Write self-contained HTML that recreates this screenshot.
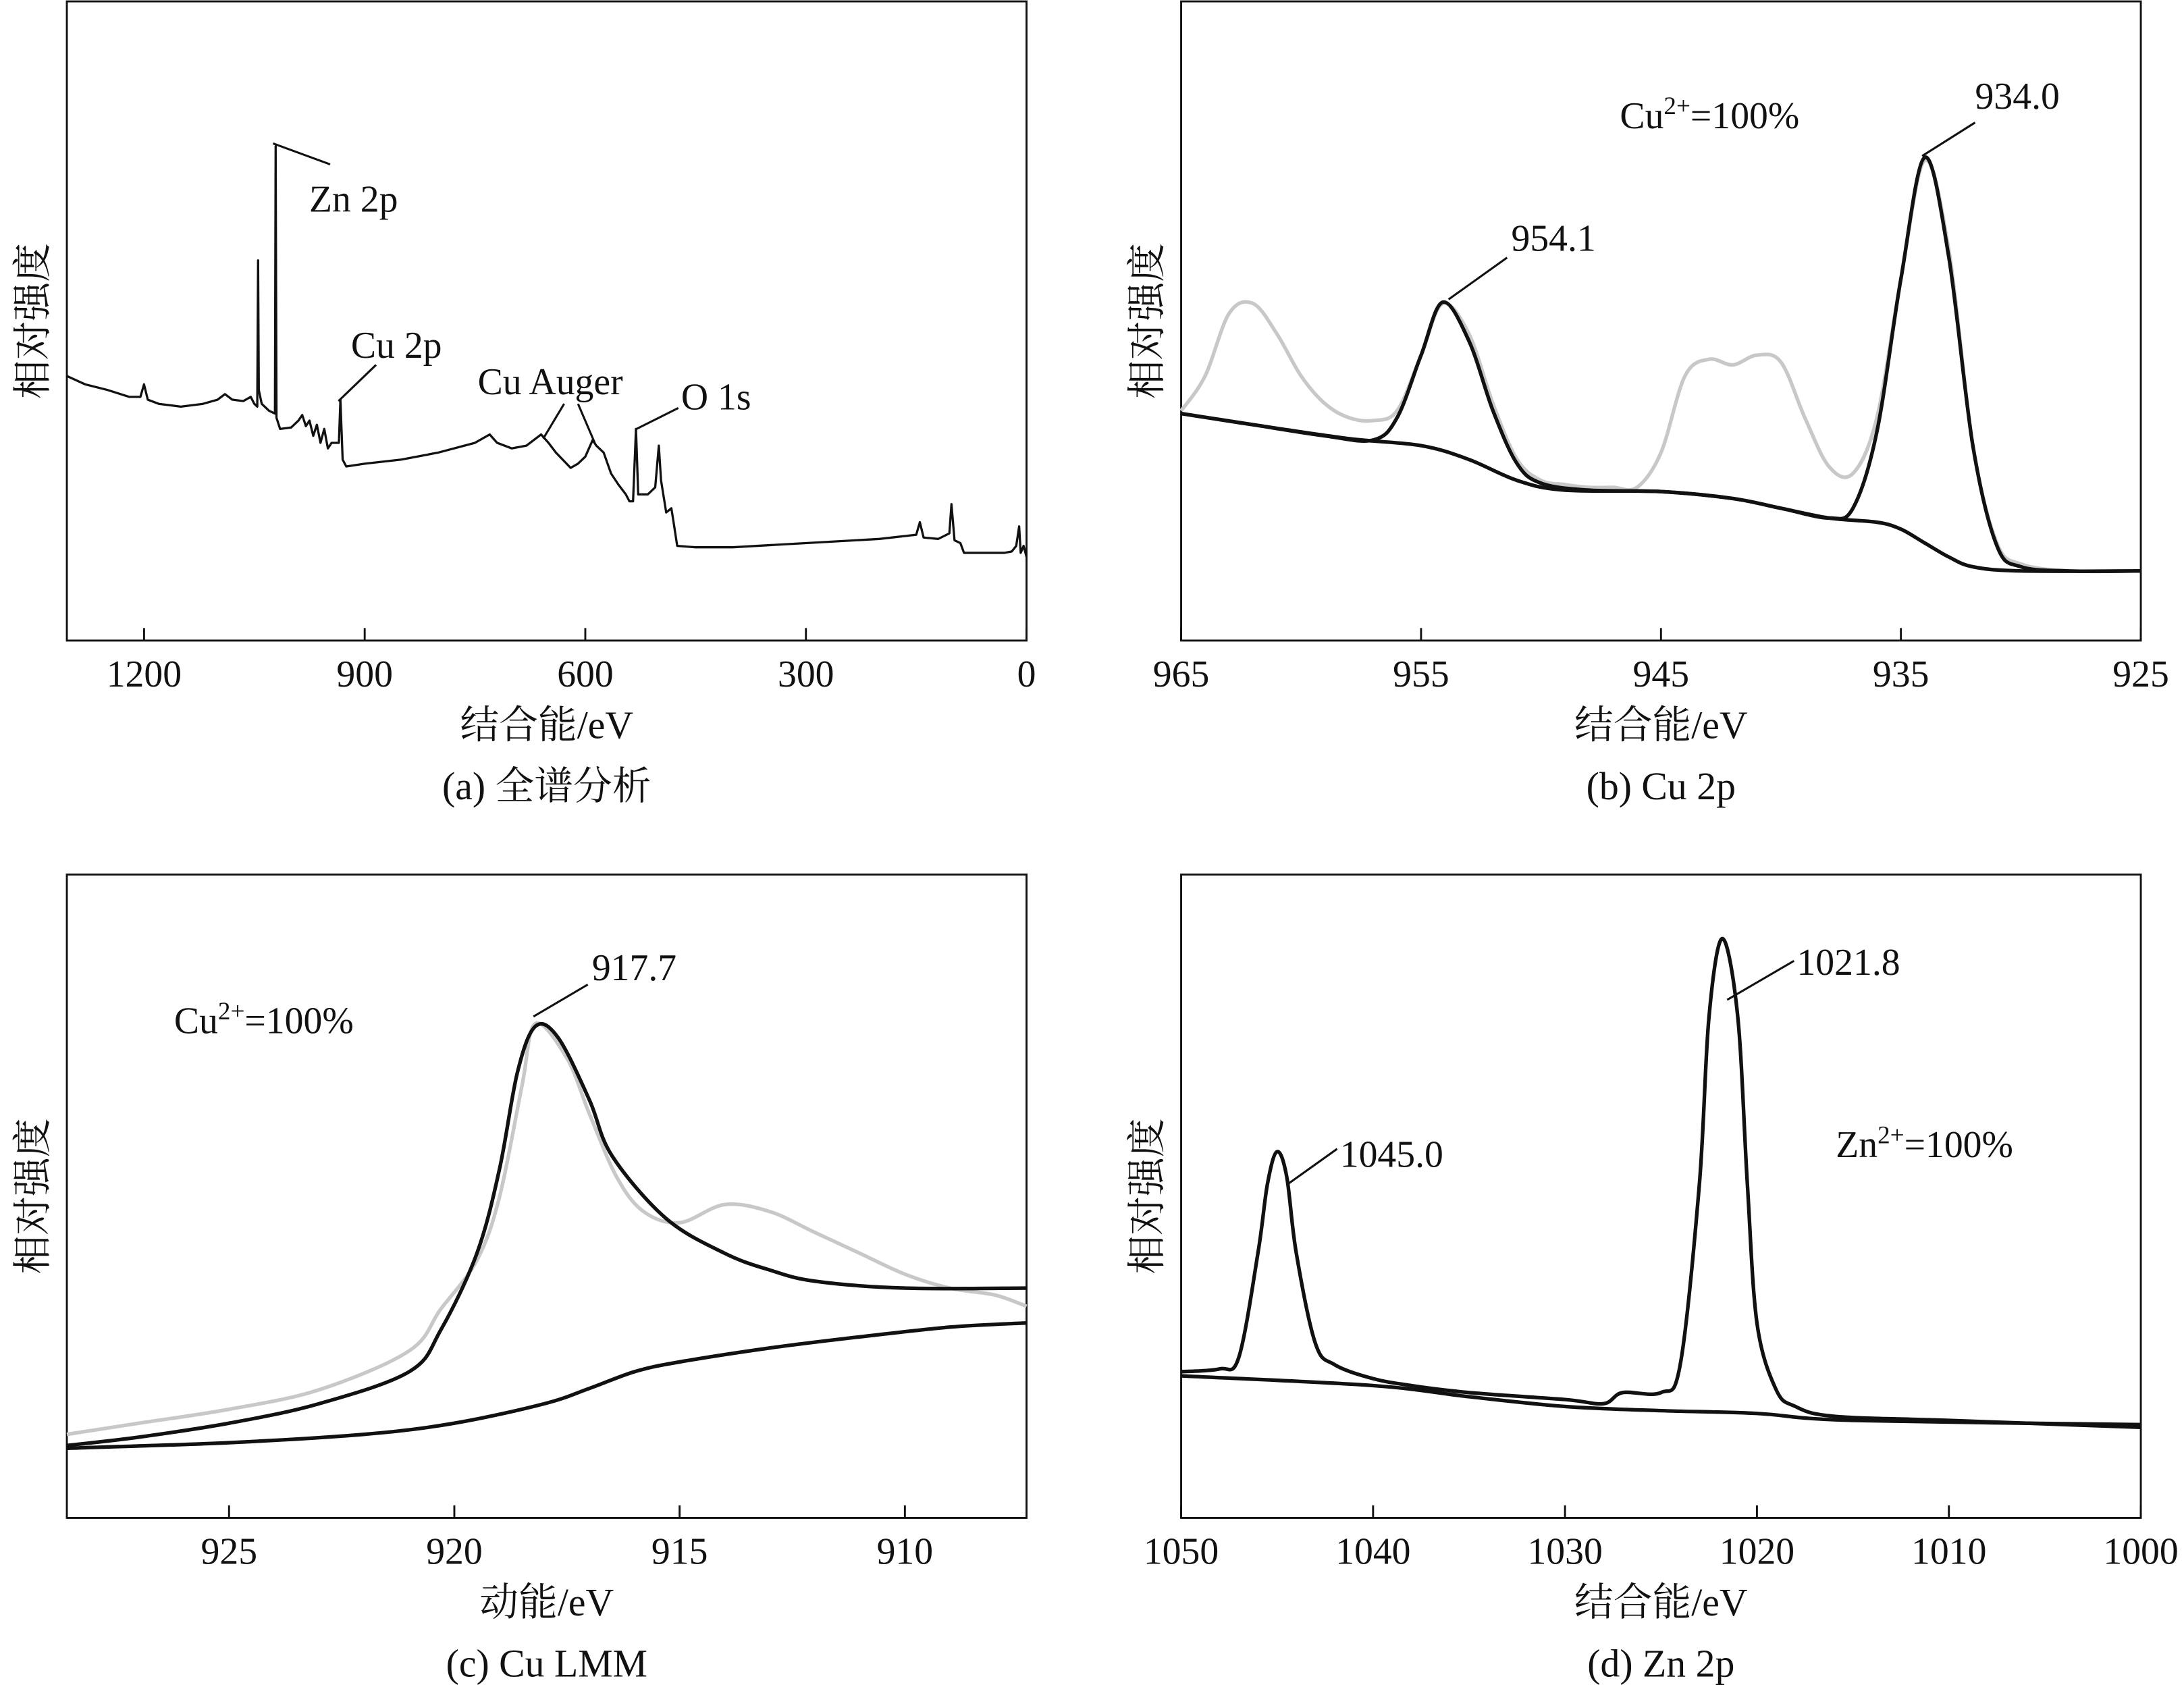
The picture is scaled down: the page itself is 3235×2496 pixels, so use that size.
<!DOCTYPE html>
<html><head><meta charset="utf-8"><style>
html,body{margin:0;padding:0;background:#fff;}
svg{display:block;}
text{font-family:"Liberation Serif","Noto Serif CJK SC",serif;fill:#111;}
</style></head><body>
<svg id="fig" width="3235" height="2496" viewBox="0 0 1568 1210" preserveAspectRatio="none" xmlns="http://www.w3.org/2000/svg"></svg>
<script>
// ---------- Panel (a) survey ----------
const aE=[1305,1280,1250,1220,1205,1200,1195,1180,1150,1120,1100,1090,1080,1065,1055,1050,1046,1045,1044,1040,1030,1022,1021,1020,1015,1000,990,985,980,975,970,965,960,955,950,945,935,933,930,925,900,850,800,750,730,720,700,680,660,650,640,620,610,600,590,585,575,565,555,545,540,535,531,528,515,505,500,497,490,483,480,475,450,400,300,200,150,145,140,120,105,102,98,90,85,60,30,20,14,10,8,4,0];
const aI=[190,184,180,175,175,184,173,170,168,170,173,177,173,172,175,170,168,273,180,170,165,163,355,160,152,153,158,162,154,158,147,155,142,152,138,142,142,173,130,125,127,130,135,142,148,142,138,140,148,142,135,124,127,132,144,140,135,120,112,105,100,100,152,105,105,110,140,115,92,95,85,68,67,67,70,73,76,85,74,73,77,98,72,70,63,63,63,64,68,82,63,68,60];
const aTicks=[1200,900,600,300,0];
// ---------- Panel (b) Cu 2p ----------
const bRawE=[965,964,963,962,961,960,959,958,957,956,955,954.1,953,952,951,950,949,948,947,946,945,944,943,942,941,940,939,938,937,936,935,934,933,932,931,930,928,925];
const bRawI=[165,190,235,242,220,190,170,160,158,165,205,242,220,170,130,115,112,110,110,110,135,190,202,198,205,200,160,125,120,160,260,345,280,140,70,55,50,50];
const bFitE=[965,962,959,957,956,955,954.1,953,952,951,950,948,945,942,940,938,937,936,935,934,933,932,931,930,928,925];
const bFitI=[163,155,147,144,160,205,243,215,165,127,113,108,107,102,95,88,95,150,260,347,275,140,68,53,50,50];
const bBgE=[965,962,958,955,953,951,949,945,942,940,938,936,935,934,933,932,930,925];
const bBgI=[163,155,145,140,130,115,108,107,102,95,88,85,80,70,60,53,50,50];
const bTicks=[965,955,945,935,925];
// ---------- Panel (c) Cu LMM ----------
const cRawE=[928.6,927,925,923,921,920.3,919.5,919,918.5,918.2,917.5,917,916.4,915.8,915,914,913,912,911,910,909,908,907.3];
const cRawI=[60,68,78,92,120,150,185,230,310,355,330,290,245,220,212,225,220,205,190,175,165,160,152];
const cFitE=[928.6,927,925,923,921,920.3,919.5,919,918.6,918.2,917.7,917,916.5,915.3,914,913,912,910,907.3];
const cFitI=[52,58,68,82,105,135,190,250,320,353,345,300,260,215,190,178,170,165,165];
const cBgE=[928.6,925,922,920,918,917,916,915,913,911,909,907.3];
const cBgI=[50,54,60,68,82,93,105,112,122,130,137,140];
const cTicks=[925,920,915,910];
// ---------- Panel (d) Zn 2p ----------
const dRawE=[1050,1048,1047,1046,1045.5,1045,1044.5,1044,1043,1042,1040,1038,1035,1030,1028,1027,1025,1024,1023,1022.5,1021.8,1021,1020.5,1020,1019,1018,1016,1010,1000];
const dRawI=[105,107,115,190,240,263,245,190,125,110,100,95,90,85,82,90,90,110,240,360,416,360,240,140,92,80,73,70,65];
const dBgE=[1050,1040,1035,1030,1025,1020,1015,1000];
const dBgI=[102,95,87,80,77,75,70,67];
const dTicks=[1050,1040,1030,1020,1010,1000];

const NS='http://www.w3.org/2000/svg';
const svg=document.getElementById('fig');
function mk(tag,attrs,parent){const e=document.createElementNS(NS,tag);for(const k in attrs)e.setAttribute(k,attrs[k]);(parent||svg).appendChild(e);return e;}
function txt(x,y,s,size,anchor,parent){const t=mk('text',{x:x,y:y,'font-size':size,'text-anchor':anchor||'start'},parent);t.textContent=s;return t;}

function panel(id,L,R,T,B,e0,e1,ticks,xlabel,caption){
  const g=mk('g',{});
  
  
  const sx=e=>L+(e0-e)/(e0-e1)*(R-L);
  const sy=v=>B-v;
  const fr=mk('rect',{x:L,y:T,width:R-L,height:B-T,fill:'none',stroke:'#111','stroke-width':1.4},g);
  
  
  ticks.forEach(t=>{
    const x=sx(t);
    const tl=mk('line',{x1:x,y1:B,x2:x,y2:B-9,stroke:'#111','stroke-width':1.4},g);
    
    
    const lb=txt(x,B+33,String(t),27,'middle',g);
    
    
  });
  const xt=txt((L+R)/2,B+70,xlabel,28,'middle',g);
  
  
  const cp=txt((L+R)/2,B+114,caption,28,'middle',g);
  
  
  const cy=(T+B)/2;
  const yt=txt(0,0,'相对强度',28,'middle',g);
  yt.setAttribute('transform','translate('+(L-15)+','+cy+') rotate(-90)');
  
  
  return {g,sx,sy};
}
function curve(p,E,I,color,w,name,smooth){
  const P=E.map((e,i)=>[p.sx(e),p.sy(I[i])]);
  let d='M'+P[0][0].toFixed(1)+','+P[0][1].toFixed(1);
  if(!smooth){
    for(let i=1;i<P.length;i++)d+=' L'+P[i][0].toFixed(1)+','+P[i][1].toFixed(1);
  }else{
    const t=1/6;
    for(let i=0;i<P.length-1;i++){
      const p0=P[Math.max(0,i-1)],p1=P[i],p2=P[i+1],p3=P[Math.min(P.length-1,i+2)];
      const c1=[p1[0]+(p2[0]-p0[0])*t,p1[1]+(p2[1]-p0[1])*t];
      const c2=[p2[0]-(p3[0]-p1[0])*t,p2[1]-(p3[1]-p1[1])*t];
      d+=' C'+c1[0].toFixed(1)+','+c1[1].toFixed(1)+' '+c2[0].toFixed(1)+','+c2[1].toFixed(1)+' '+p2[0].toFixed(1)+','+p2[1].toFixed(1);
    }
  }
  const path=mk('path',{d:d,fill:'none',stroke:color,'stroke-width':w,'stroke-linejoin':'round'},p.g);
  
  
}
function lead(p,x1,y1,x2,y2){
  const l=mk('line',{x1,y1,x2,y2,stroke:'#111','stroke-width':1.5},p.g);
  
  
}
function label(p,x,y,s,name){
  const t=txt(x,y,s,27,'start',p.g);
  
  
  return t;
}
function supLabel(p,x,y,base,sup,rest,name){
  const t=mk('text',{x:x,y:y,'font-size':27},p.g);
  
  
  t.appendChild(document.createTextNode(base));
  const s=mk('tspan',{'font-size':18,dy:-10},t);s.textContent=sup;
  const r=mk('tspan',{dy:10},t);r.textContent=rest;
}

// (a)
const pa=panel('a',48,737,1,460,1305,0,aTicks,'结合能/eV','(a) 全谱分析');
curve(pa,aE,aI,'#111',1.6,'survey-spectrum',false);
lead(pa,196,103,237,118);label(pa,222,152,'Zn 2p','label-zn2p');
lead(pa,243,288,270,262);label(pa,252,257,'Cu 2p','label-cu2p');
lead(pa,390,315,405,290);lead(pa,427,318,415,290);label(pa,343,283,'Cu Auger','label-cu-auger');
lead(pa,457,308,487,293);label(pa,489,294,'O 1s','label-o1s');

// (b)
const pb=panel('b',848,1537,1,460,965,925,bTicks,'结合能/eV','(b) Cu 2p');
curve(pb,bRawE,bRawI,'#c8c8c8',2.6,'cu2p-raw',true);
curve(pb,bBgE,bBgI,'#111',2.6,'cu2p-background',true);
curve(pb,bFitE,bFitI,'#111',2.6,'cu2p-fit',true);
supLabel(pb,1163,92,'Cu','2+','=100%','label-cu2plus');
lead(pb,1380,112,1418,88);label(pb,1418,78,'934.0','label-934');
lead(pb,1040,215,1082,185);label(pb,1085,180,'954.1','label-954');

// (c)
const pc=panel('c',48,737,628,1090,928.6,907.3,cTicks,'动能/eV','(c) Cu LMM');
curve(pc,cRawE,cRawI,'#c8c8c8',2.6,'lmm-raw',true);
curve(pc,cBgE,cBgI,'#111',2.6,'lmm-background',true);
curve(pc,cFitE,cFitI,'#111',2.6,'lmm-fit',true);
supLabel(pc,125,742,'Cu','2+','=100%','label-cu2plus-c');
lead(pc,383,730,422,707);label(pc,425,704,'917.7','label-917');

// (d)
const pd=panel('d',848,1537,628,1090,1050,1000,dTicks,'结合能/eV','(d) Zn 2p');
curve(pd,dBgE,dBgI,'#111',2.6,'zn2p-background',true);
curve(pd,dRawE,dRawI,'#111',2.6,'zn2p-spectrum',true);
supLabel(pd,1318,831,'Zn','2+','=100%','label-zn2plus');
lead(pd,925,850,960,825);label(pd,962,838,'1045.0','label-1045');
lead(pd,1240,718,1288,690);label(pd,1290,700,'1021.8','label-1021');
</script>
</body></html>
